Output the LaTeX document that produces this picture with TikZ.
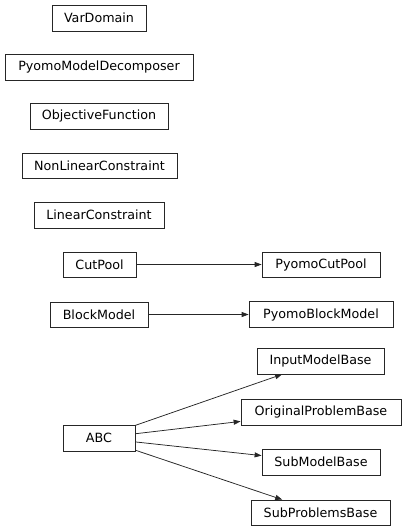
\documentclass[tikz,border=0pt]{standalone}
\usepackage{fontspec}
\setmainfont{DejaVu Sans}
\usetikzlibrary{arrows.meta}
\begin{document}
\begin{tikzpicture}[x=1pt,y=-1pt,
  cls/.style={draw=black!85,line width=0.75pt,inner sep=0pt,font=\fontsize{12.7pt}{14pt}\selectfont},
  inh/.style={draw=black!85,line width=0.75pt,-{Triangle[length=7pt,width=5pt]}}]
\useasboundingbox (0,0) rectangle (405,529);
\node[cls,minimum width=94pt,minimum height=26pt] (vd) at (99,18) {VarDomain};
\node[cls,minimum width=188pt,minimum height=26pt] (pmd) at (99,67) {PyomoModelDecomposer};
\node[cls,minimum width=138pt,minimum height=26pt] (of) at (99,116) {ObjectiveFunction};
\node[cls,minimum width=155pt,minimum height=25pt] (nlc) at (99.5,165.5) {NonLinearConstraint};
\node[cls,minimum width=130pt,minimum height=26pt] (lc) at (99,215) {LinearConstraint};
\node[cls,minimum width=73pt,minimum height=25pt] (cp) at (99.5,264.5) {CutPool};
\node[cls,minimum width=98pt,minimum height=25pt] (bm) at (99,314.5) {BlockModel};
\node[cls,minimum width=72pt,minimum height=26pt] (abc) at (99,438) {ABC};
\node[cls,minimum width=118pt,minimum height=25pt] (pcp) at (321,264.5) {PyomoCutPool};
\node[cls,minimum width=144pt,minimum height=26pt] (pbm) at (321,314.5) {PyomoBlockModel};
\node[cls,minimum width=127pt,minimum height=26pt] (imb) at (320.5,361) {InputModelBase};
\node[cls,minimum width=160pt,minimum height=26pt] (opb) at (321,412) {OriginalProblemBase};
\node[cls,minimum width=118pt,minimum height=26pt] (smb) at (321,462) {SubModelBase};
\node[cls,minimum width=139pt,minimum height=25pt] (spb) at (320.5,512.5) {SubProblemsBase};
\draw[inh] (cp) -- (pcp);
\draw[inh] (bm) -- (pbm);
\draw[inh] (abc) -- (imb);
\draw[inh] (abc) -- (opb);
\draw[inh] (abc) -- (smb);
\draw[inh] (abc) -- (spb);
\end{tikzpicture}
\end{document}
